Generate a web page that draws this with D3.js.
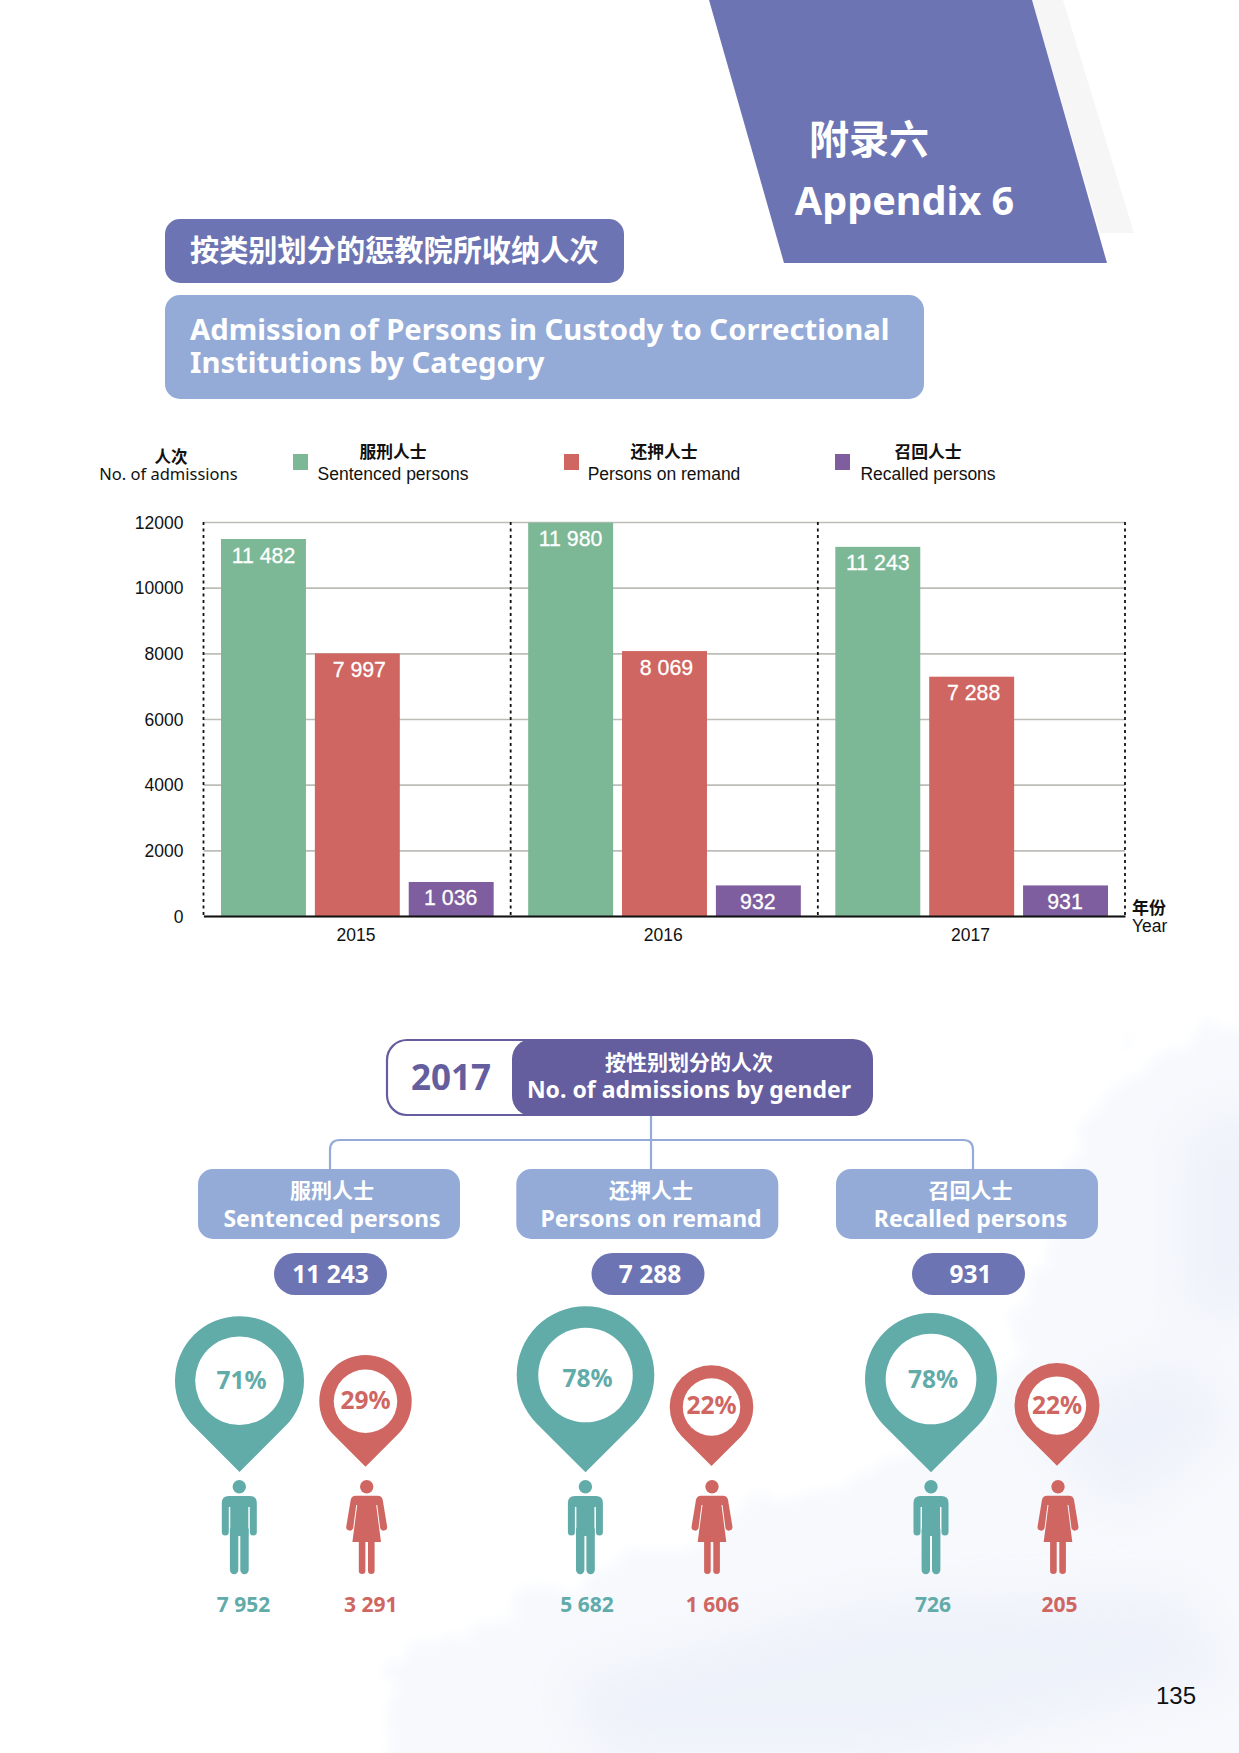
<!DOCTYPE html>
<html>
<head>
<meta charset="utf-8">
<script src="https://cdn.jsdelivr.net/npm/d3@7"></script>
<style>
  html, body { margin: 0; background: #fff; }
  svg { display: block; }
  text { font-family: "Noto Sans", "Noto Sans CJK SC", sans-serif; }
  .cjk { font-family: "Noto Sans CJK SC", sans-serif; }
  .helv { font-family: "Liberation Sans", sans-serif; }
</style>
</head>
<body>
<svg id="page" width="1239" height="1753"></svg>
<script>
// chart data
const years = ['2015', '2016', '2017'];
const seriesKeys = ['sentenced', 'remand', 'recalled'];
const seriesZh = ['服刑人士', '还押人士', '召回人士'];
const seriesEn = ['Sentenced persons', 'Persons on remand', 'Recalled persons'];
const sentenced = [11482, 11980, 11243];
const remand = [7997, 8069, 7288];
const recalled = [1036, 932, 931];
const yTicks = [0, 2000, 4000, 6000, 8000, 10000, 12000];

// 2017 by gender
const totals2017 = [11243, 7288, 931];
const maleCounts = [7952, 5682, 726];
const femaleCounts = [3291, 1606, 205];
const malePct = [71, 78, 78];
const femalePct = [29, 22, 22];

const colors = { sentenced: '#7cb896', remand: '#cf6661', recalled: '#7f5e9f' };
const teal = '#61aba9', red = '#cf6661', indigo = '#6d74b3', blue = '#94abd8', deep = '#645d9e';

const svg = d3.select('#page');
const fmt = n => String(n).replace(/\B(?=(\d{3})+$)/g, ' ');

function label(g, x, y, str, size, fill, opts = {}) {
  return g.append('text')
    .attr('x', x).attr('y', y)
    .attr('class', opts.cls || null)
    .attr('text-anchor', opts.anchor || 'middle')
    .attr('font-size', size)
    .attr('font-weight', opts.weight || 400)
    .attr('fill', fill)
    .text(str);
}

// pale watercolour behind the lower half
function drawWash() {
  const defs = svg.append('defs');
  const rough = defs.append('filter').attr('id', 'rough')
    .attr('x', '-20%').attr('y', '-20%').attr('width', '140%').attr('height', '140%');
  rough.append('feTurbulence').attr('type', 'fractalNoise').attr('baseFrequency', 0.018)
    .attr('numOctaves', 4).attr('seed', 7).attr('result', 'n');
  rough.append('feDisplacementMap').attr('in', 'SourceGraphic').attr('in2', 'n').attr('scale', 60).attr('result', 'd');
  rough.append('feGaussianBlur').attr('in', 'd').attr('stdDeviation', 6);
  const soft = defs.append('filter').attr('id', 'soft')
    .attr('x', '-30%').attr('y', '-30%').attr('width', '160%').attr('height', '160%');
  soft.append('feGaussianBlur').attr('stdDeviation', 26);

  const g = svg.append('g');
  g.append('path').attr('filter', 'url(#rough)').attr('fill', '#f7f9fd')
    .attr('d', 'M1270,1028 L1145,1050 L1072,1150 L1042,1301 L959,1428 L839,1477 L600,1574 L384,1661 L390,1790 L1270,1790Z');
  const streaks = [
    'M1180,1130 L1270,1100 L1270,1320 L1180,1320Z',
    'M1030,1420 L1180,1350 L1240,1420 L1120,1520Z',
    'M560,1680 L860,1600 L1180,1590 L1240,1680 L900,1760 L600,1760Z'
  ];
  streaks.forEach(d => g.append('path').attr('d', d).attr('fill', '#eef2f9').attr('filter', 'url(#soft)'));
}

function drawHeader() {
  svg.append('path').attr('d', 'M1032,0 L1063,0 L1134,233 L1100,233Z').attr('fill', '#f6f6f7');
  svg.append('path').attr('d', 'M709,0 L1032,0 L1107,263 L784,263Z').attr('fill', indigo);
  label(svg, 869, 154, '附录六', 40, '#fff', { cls: 'cjk', weight: 700 });
  label(svg, 904.5, 215, 'Appendix 6', 39.6, '#fff', { weight: 700 });

  svg.append('rect').attr('x', 165).attr('y', 219).attr('width', 459).attr('height', 64).attr('rx', 15).attr('fill', indigo);
  label(svg, 190, 261, '按类别划分的惩教院所收纳人次', 29.2, '#fff', { cls: 'cjk', weight: 700, anchor: 'start' });

  svg.append('rect').attr('x', 165).attr('y', 295).attr('width', 759).attr('height', 104).attr('rx', 15).attr('fill', blue);
  label(svg, 190, 340, 'Admission of Persons in Custody to Correctional', 29.25, '#fff', { weight: 700, anchor: 'start' });
  label(svg, 190, 373, 'Institutions by Category', 29.25, '#fff', { weight: 700, anchor: 'start' });
}

function drawLegend() {
  label(svg, 171, 463, '人次', 16.5, '#111', { cls: 'cjk', weight: 700 });
  label(svg, 168.5, 480, 'No. of admissions', 16.5, '#111');
  const squareX = [293, 564, 835];
  const textX = [393, 664, 928];
  seriesKeys.forEach((k, i) => {
    svg.append('rect').attr('x', squareX[i]).attr('y', 454).attr('width', 15).attr('height', 16).attr('fill', colors[k]);
    label(svg, textX[i], 458, seriesZh[i], 16.8, '#111', { cls: 'cjk', weight: 700 });
    label(svg, textX[i], 480, seriesEn[i], 17.5, '#111', { cls: 'helv' });
  });
}

function drawBars() {
  const left = 203.5, right = 1125, top = 522, bottom = 916;
  const x = d3.scaleBand().domain(years).range([left, right]);
  const xSub = d3.scaleBand().domain(seriesKeys).range([17.5, x.bandwidth() - 17]).paddingInner(0.095);
  const y = d3.scaleLinear().domain([0, 12000]).range([bottom, top]);

  // grid + y labels come from the axis
  const yAxis = svg.append('g').attr('transform', `translate(${left},0)`)
    .call(d3.axisLeft(y).tickValues(yTicks).tickFormat(d3.format('d')).tickSize(-(right - left)).tickPadding(20));
  yAxis.select('.domain').remove();
  yAxis.selectAll('.tick line').attr('stroke', '#bdbdb8').attr('stroke-width', 1.6);
  yAxis.selectAll('.tick text').attr('class', 'helv').attr('font-size', 17.5).attr('fill', '#111').attr('dy', '0.36em');

  // dotted separators
  const edges = years.map(d => x(d)).concat([right]);
  svg.selectAll('.sep').data(edges).join('line')
    .attr('x1', d => d).attr('x2', d => d).attr('y1', top).attr('y2', bottom)
    .attr('stroke', '#111').attr('stroke-width', 1.8).attr('stroke-dasharray', '3 3.5');

  const values = { sentenced, remand, recalled };
  const labelNudge = { sentenced: 0, remand: 2, recalled: -0.5 };
  seriesKeys.forEach(k => {
    const g = svg.append('g');
    g.selectAll('rect').data(values[k]).join('rect')
      .attr('x', (d, i) => x(years[i]) + xSub(k))
      .attr('y', d => y(d))
      .attr('width', xSub.bandwidth())
      .attr('height', d => bottom - y(d))
      .attr('fill', colors[k]);
    g.selectAll('text').data(values[k]).join('text')
      .attr('class', 'helv')
      .attr('x', (d, i) => x(years[i]) + xSub(k) + xSub.bandwidth() / 2 + labelNudge[k])
      .attr('y', d => y(d) + 23.5)
      .attr('text-anchor', 'middle')
      .attr('font-size', 21.3)
      .attr('fill', '#fff')
      .attr('stroke', '#fff')
      .attr('stroke-width', 0.3)
      .text(fmt);
  });

  const xAxis = svg.append('g').attr('transform', `translate(0,${bottom})`)
    .call(d3.axisBottom(x).tickSize(0).tickPadding(13));
  xAxis.select('.domain').attr('stroke', '#111').attr('stroke-width', 2);
  xAxis.selectAll('.tick text').attr('class', 'helv').attr('font-size', 17.5).attr('fill', '#111').attr('dx', -1);

  label(svg, 1132, 914, '年份', 17, '#111', { cls: 'cjk', weight: 700, anchor: 'start' });
  label(svg, 1132, 932, 'Year', 17.5, '#111', { cls: 'helv', anchor: 'start' });
}

function drawTree() {
  const g = svg.append('g');
  g.append('path')
    .attr('d', 'M330,1172 V1150 Q330,1140 340,1140 H963 Q973,1140 973,1150 V1172 M651,1116 V1172')
    .attr('fill', 'none').attr('stroke', blue).attr('stroke-width', 2.2);

  g.append('rect').attr('x', 387).attr('y', 1040).attr('width', 480).attr('height', 75).attr('rx', 20)
    .attr('fill', '#fff').attr('stroke', deep).attr('stroke-width', 2.2);
  g.append('rect').attr('x', 512).attr('y', 1039).attr('width', 361).attr('height', 77).attr('rx', 20).attr('fill', deep);
  label(g, 451, 1090, '2017', 35, deep, { weight: 700 });
  label(g, 689, 1070, '按性别划分的人次', 21, '#fff', { cls: 'cjk', weight: 700 });
  label(g, 689, 1098, 'No. of admissions by gender', 23, '#fff', { weight: 700 });

  const boxW = 262;
  const boxX = [329, 647.3, 967];
  const boxTextX = [332, 651, 970.5];
  const pillX = [330.5, 648, 968.5];
  const pillTextX = [330.5, 650, 970.5];
  seriesKeys.forEach((k, i) => {
    g.append('rect').attr('x', boxX[i] - boxW / 2).attr('y', 1169).attr('width', boxW).attr('height', 70).attr('rx', 15).attr('fill', blue);
    label(g, boxTextX[i], 1198, seriesZh[i], 21, '#fff', { cls: 'cjk', weight: 700 });
    label(g, boxTextX[i], 1227, seriesEn[i], 23, '#fff', { weight: 700 });
    g.append('rect').attr('x', pillX[i] - 56.5).attr('y', 1253).attr('width', 113).attr('height', 42).attr('rx', 21).attr('fill', indigo);
    label(g, pillTextX[i], 1283, fmt(totals2017[i]), 24.5, '#fff', { weight: 700 });
  });
}

// pin: circle with two tangents meeting 45deg below
function pinPath(cx, cy, r) {
  const s = r * Math.SQRT1_2;
  return `M${cx - s},${cy + s} A${r},${r} 0 1 1 ${cx + s},${cy + s} L${cx},${cy + r * Math.SQRT2}Z`;
}

function drawMan(g, cx, color) {
  g.append('circle').attr('cx', cx).attr('cy', 1486.7).attr('r', 6.7).attr('fill', color);
  g.append('path').attr('fill', color)
    .attr('d', `M${cx - 17.5},1503 q0,-7 7,-7 h21 q7,0 7,7 v29 a3.5,3.5 0 0 1 -7,0 v-25 h-1.5 v29 h-18 v-29 h-1.5 v25 a3.5,3.5 0 0 1 -7,0Z`);
  [-5.2, 5.2].forEach(dx => {
    g.append('line').attr('x1', cx + dx).attr('x2', cx + dx).attr('y1', 1530).attr('y2', 1570)
      .attr('stroke', color).attr('stroke-width', 8.4).attr('stroke-linecap', 'round');
  });
}

function drawWoman(g, cx, color) {
  g.append('circle').attr('cx', cx).attr('cy', 1486.7).attr('r', 6.7).attr('fill', color);
  g.append('path').attr('fill', color)
    .attr('d', `M${cx - 11},1495.7 h22 q4,0 5,4 L${cx + 20.5},1527 a3.6,3.6 0 0 1 -7,1.2 L${cx + 10.5},1505 h-1 L${cx + 14.3},1542 H${cx - 14.3} L${cx - 9.5},1505 h-1 L${cx - 13.5},1528.2 a3.6,3.6 0 0 1 -7,-1.2 L${cx - 16},1499.7 q1,-4 5,-4Z`);
  [-4.6, 4.6].forEach(dx => {
    g.append('line').attr('x1', cx + dx).attr('x2', cx + dx).attr('y1', 1540).attr('y2', 1570.7)
      .attr('stroke', color).attr('stroke-width', 6.6).attr('stroke-linecap', 'round');
  });
}

function drawPins() {
  const g = svg.append('g');
  const maleX = [239.5, 585.5, 931], femaleX = [365.5, 711.5, 1057];
  const maleCy = [1380.7, 1375, 1379], femaleCy = [1401.3, 1407, 1405.6];
  const maleR = [64.5, 68.8, 66], femaleR = [46.2, 41.8, 42.5];
  const manX = [239.3, 585.4, 931], womanX = [366.7, 712, 1058];
  const malePctX = [241.5, 587.5, 933], malePctY = [1389.2, 1387, 1387.5];
  const femalePctX = [365.5, 711.5, 1057], femalePctY = [1408.8, 1413.5, 1414];
  const maleNumX = [243.5, 587, 933], femaleNumX = [370.7, 712.5, 1059.5];

  malePct.forEach((p, i) => {
    g.append('path').attr('d', pinPath(maleX[i], maleCy[i], maleR[i])).attr('fill', teal);
    g.append('circle').attr('cx', maleX[i]).attr('cy', maleCy[i]).attr('r', maleR[i] * 0.687).attr('fill', '#fff');
    label(g, malePctX[i], malePctY[i], p + '%', 24.5, teal, { weight: 700 });
    drawMan(g, manX[i], teal);
    label(g, maleNumX[i], 1612, fmt(maleCounts[i]), 21, teal, { weight: 700 });

    g.append('path').attr('d', pinPath(femaleX[i], femaleCy[i], femaleR[i])).attr('fill', red);
    g.append('circle').attr('cx', femaleX[i]).attr('cy', femaleCy[i]).attr('r', femaleR[i] * 0.687).attr('fill', '#fff');
    label(g, femalePctX[i], femalePctY[i], femalePct[i] + '%', 24.5, red, { weight: 700 });
    drawWoman(g, womanX[i], red);
    label(g, femaleNumX[i], 1612, fmt(femaleCounts[i]), 21, red, { weight: 700 });
  });
}

drawWash();
drawHeader();
drawLegend();
drawBars();
drawTree();
drawPins();
label(svg, 1176, 1704, '135', 24, '#111', { cls: 'helv' });
</script>
</body>
</html>
